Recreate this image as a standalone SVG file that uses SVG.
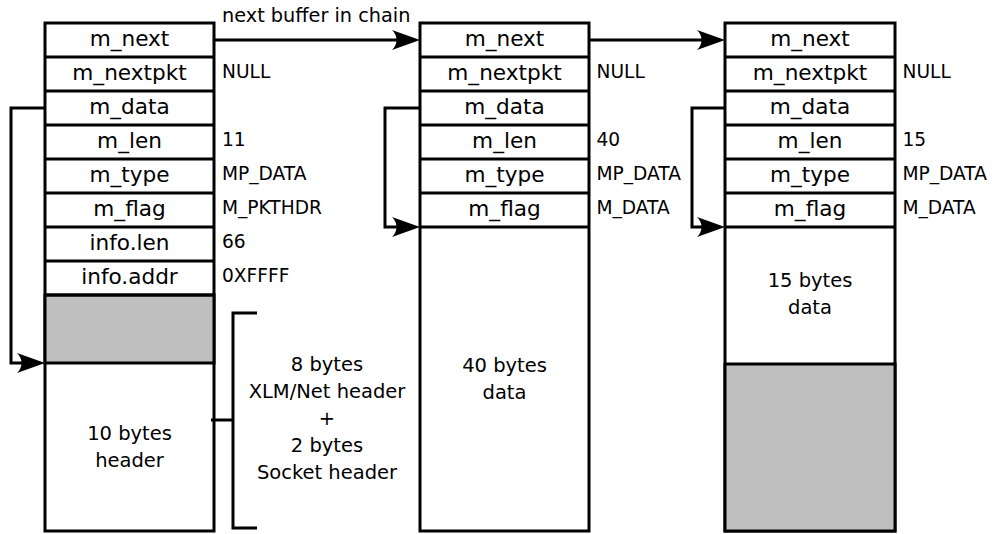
<svg xmlns="http://www.w3.org/2000/svg" width="994" height="534" viewBox="0 0 994 534">
  <style>
    .box { fill: #ffffff; stroke: #000000; stroke-width: 3; }
    .pad { fill: #bfbfbf; stroke: #000000; stroke-width: 3; }
    .sep { stroke: #000000; stroke-width: 3; fill: none; }
    .wire { stroke: #000000; stroke-width: 3; fill: none; marker-end: url(#head); }
    .brace { stroke: #000000; stroke-width: 3; fill: none; }
    .field { font-family: "DejaVu Sans", sans-serif; font-size: 21.6px; text-anchor: middle; fill: #000; }
    .val { font-family: "DejaVu Sans", sans-serif; font-size: 18.6px; fill: #000; }
    .note { font-family: "DejaVu Sans", sans-serif; font-size: 19.5px; text-anchor: middle; fill: #000; }
  </style>
  <defs>
    <marker id="head" markerUnits="userSpaceOnUse" markerWidth="40" markerHeight="30" refX="0" refY="0" orient="auto" overflow="visible">
      <path d="M10,0 L-18,-10 C-12,-4 -12,4 -18,10 Z" fill="#000"/>
    </marker>
  </defs>

  <rect width="994" height="534" fill="#ffffff"/>

  <!-- first buffer: packet header + 10 bytes header -->
  <g id="mbuf1">
    <rect class="box" x="45" y="23" width="169" height="508"/>
    <rect class="pad" x="45" y="295" width="169" height="68"/>
    <path class="sep" d="M45,57 H214 M45,91 H214 M45,125 H214 M45,159 H214 M45,193 H214 M45,227 H214 M45,261 H214 M45,295 H214"/>
    <text class="field" x="129.5" y="46">m_next</text>
    <text class="field" x="129.5" y="80">m_nextpkt</text>
    <text class="field" x="129.5" y="114">m_data</text>
    <text class="field" x="129.5" y="148">m_len</text>
    <text class="field" x="129.5" y="182">m_type</text>
    <text class="field" x="129.5" y="216">m_flag</text>
    <text class="field" x="129.5" y="250">info.len</text>
    <text class="field" x="129.5" y="284">info.addr</text>
    <text class="val" x="222" y="78">NULL</text>
    <text class="val" x="222" y="146">11</text>
    <text class="val" x="222" y="180">MP_DATA</text>
    <text class="val" x="222" y="214">M_PKTHDR</text>
    <text class="val" x="222" y="248">66</text>
    <text class="val" x="222" y="282">0XFFFF</text>
    <text class="note" x="129.5" y="440">10 bytes</text>
    <text class="note" x="129.5" y="467">header</text>
  </g>

  <!-- brace describing the header bytes -->
  <g id="header-note">
    <path class="brace" d="M257,313 H233 V528 H257 M211,420 H233"/>
    <text class="note" x="327" y="371">8 bytes</text>
    <text class="note" x="327" y="398">XLM/Net header</text>
    <text class="note" x="327" y="425">+</text>
    <text class="note" x="327" y="452">2 bytes</text>
    <text class="note" x="327" y="479">Socket header</text>
  </g>

  <!-- second buffer: 40 bytes data -->
  <g id="mbuf2">
    <rect class="box" x="420" y="23" width="169" height="508"/>
    <path class="sep" d="M420,57 H589 M420,91 H589 M420,125 H589 M420,159 H589 M420,193 H589 M420,227 H589"/>
    <text class="field" x="504.5" y="46">m_next</text>
    <text class="field" x="504.5" y="80">m_nextpkt</text>
    <text class="field" x="504.5" y="114">m_data</text>
    <text class="field" x="504.5" y="148">m_len</text>
    <text class="field" x="504.5" y="182">m_type</text>
    <text class="field" x="504.5" y="216">m_flag</text>
    <text class="val" x="596.5" y="78">NULL</text>
    <text class="val" x="596.5" y="146">40</text>
    <text class="val" x="596.5" y="180">MP_DATA</text>
    <text class="val" x="596.5" y="214">M_DATA</text>
    <text class="note" x="504.5" y="372">40 bytes</text>
    <text class="note" x="504.5" y="399">data</text>
  </g>

  <!-- third buffer: 15 bytes data -->
  <g id="mbuf3">
    <rect class="box" x="725" y="23" width="170" height="508"/>
    <rect class="pad" x="725" y="364" width="170" height="167"/>
    <path class="sep" d="M725,57 H895 M725,91 H895 M725,125 H895 M725,159 H895 M725,193 H895 M725,227 H895"/>
    <text class="field" x="810" y="46">m_next</text>
    <text class="field" x="810" y="80">m_nextpkt</text>
    <text class="field" x="810" y="114">m_data</text>
    <text class="field" x="810" y="148">m_len</text>
    <text class="field" x="810" y="182">m_type</text>
    <text class="field" x="810" y="216">m_flag</text>
    <text class="val" x="902.5" y="78">NULL</text>
    <text class="val" x="902.5" y="146">15</text>
    <text class="val" x="902.5" y="180">MP_DATA</text>
    <text class="val" x="902.5" y="214">M_DATA</text>
    <text class="note" x="810" y="287">15 bytes</text>
    <text class="note" x="810" y="314">data</text>
  </g>

  <!-- pointers -->
  <g id="connectors">
    <path class="wire" d="M214,40 H410"/>
    <text class="val" x="222" y="22" style="font-size:19.3px">next buffer in chain</text>
    <path class="wire" d="M589,40 H715"/>
    <path class="wire" d="M45,108 H11 V363 H35"/>
    <path class="wire" d="M420,108 H385 V227 H410"/>
    <path class="wire" d="M725,108 H692 V227 H715"/>
  </g>
</svg>
